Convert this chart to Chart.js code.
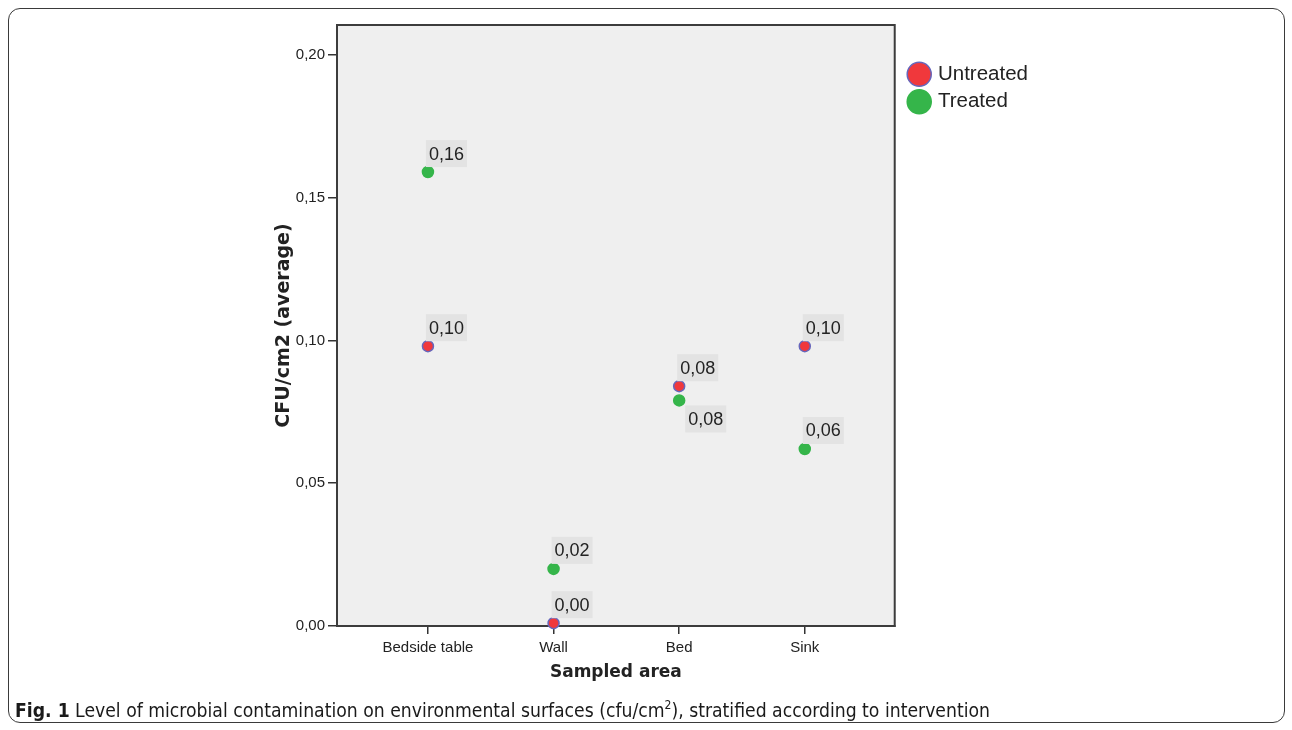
<!DOCTYPE html>
<html><head><meta charset="utf-8">
<script src="https://cdn.jsdelivr.net/npm/chart.js@4.4.1/dist/chart.umd.min.js"></script>
<style>
html,body{margin:0;padding:0;background:#fff;}
#wrap{position:relative;width:1292px;height:730px;overflow:hidden;background:#fff;}
#frame{position:absolute;left:8px;top:8px;width:1277px;height:715px;border:1.5px solid #3a3a3a;border-radius:12px;box-sizing:border-box;}
canvas{position:absolute;left:0;top:0;}
#caption{position:absolute;left:15px;top:699px;font-family:"Liberation Sans Narrow","DejaVu Sans Condensed","Liberation Sans",sans-serif;font-size:20px;color:#1a1a1a;white-space:nowrap;line-height:24px;}
#caption sup{font-size:12px;line-height:0;vertical-align:8px;}
</style></head><body>
<div id="wrap">
<div id="frame"></div>
<canvas id="c" width="1292" height="730"></canvas>
<div id="caption"><b>Fig. 1</b> Level of microbial contamination on environmental surfaces (cfu/cm<sup>2</sup>), stratified according to intervention</div>
</div>
<script>
// ---- data ----
const categories = ['Bedside table', 'Wall', 'Bed', 'Sink'];
const seriesNames = ['Untreated', 'Treated'];
const untreated = [0.098, 0.001, 0.084, 0.098];
const treated = [0.159, 0.020, 0.079, 0.062];
const yTicks = [0, 0.05, 0.10, 0.15, 0.20];
// labels drawn below-right of the point instead of above
const labelsBelow = [{series: 'Treated', category: 'Bed'}];

const fmt = v => Number(v).toFixed(2).replace('.', ',');
const SANS = '"Liberation Sans", Arial, sans-serif';
const BOLD = '"DejaVu Sans", "Liberation Sans", sans-serif';

const plotBox = {
  id: 'plotBox',
  beforeDraw(chart) {
    const {ctx, chartArea: a} = chart;
    ctx.save();
    ctx.fillStyle = '#efefef';
    ctx.fillRect(a.left, a.top, a.right - a.left, a.bottom - a.top);
    ctx.restore();
  },
  beforeDatasetsDraw(chart) {
    const {ctx, chartArea: a} = chart;
    ctx.save();
    ctx.strokeStyle = '#3c3c3c';
    ctx.lineWidth = 2;
    ctx.strokeRect(a.left, a.top, a.right - a.left, a.bottom - a.top);
    ctx.restore();
  },
  afterLayout(chart) {
    const L = chart.legend;
    if (!L) return;
    const w = L.width, h = L.height;
    L.left = chart.chartArea.right + 9;
    L.top = chart.chartArea.top + 32;
    L.right = L.left + w;
    L.bottom = L.top + h;
  }
};

const valueLabels = {
  id: 'valueLabels',
  afterDatasetsDraw(chart) {
    const ctx = chart.ctx;
    ctx.save();
    ctx.font = '18px ' + SANS;
    chart.data.datasets.forEach((ds, di) => {
      const meta = chart.getDatasetMeta(di);
      meta.data.forEach((pt, i) => {
        const txt = fmt(ds.data[i].y);
        const w = ctx.measureText(txt).width + 6;
        const h = 27;
        const below = labelsBelow.some(l => l.series === ds.label && l.category === categories[i]);
        let bx, by;
        if (below) { bx = pt.x + 6; by = pt.y + 5; }
        else { bx = pt.x - 2; by = pt.y - 5 - h; }
        ctx.fillStyle = '#e3e3e3';
        ctx.fillRect(bx, by, w, h);
        ctx.fillStyle = '#222';
        ctx.textAlign = 'center';
        ctx.textBaseline = 'middle';
        ctx.fillText(txt, bx + w / 2, by + h / 2 + 1);
      });
    });
    ctx.restore();
  }
};

new Chart(document.getElementById('c'), {
  type: 'scatter',
  data: {
    datasets: [
      {
        label: seriesNames[0],
        data: categories.map((c, i) => ({x: i, y: untreated[i]})),
        backgroundColor: '#f0383c',
        borderColor: '#6666bb',
        borderWidth: 1.5,
        pointRadius: 5.5,
        pointStyle: 'circle'
      },
      {
        label: seriesNames[1],
        data: categories.map((c, i) => ({x: i, y: treated[i]})),
        backgroundColor: '#35b54a',
        borderColor: '#35b54a',
        borderWidth: 1.5,
        pointRadius: 5.5,
        pointStyle: 'circle'
      }
    ]
  },
  options: {
    responsive: false,
    animation: false,
    events: [],
    clip: false,
    layout: {padding: {left: 269, top: 25, bottom: 43, right: 263}},
    plugins: {
      legend: {
        position: 'right',
        align: 'start',
        labels: {
          usePointStyle: true,
          pointStyle: 'circle',
          boxWidth: 17,
          boxHeight: 17,
          padding: 7,
          color: '#222',
          font: {family: SANS, size: 20.5}
        }
      },
      tooltip: {enabled: false}
    },
    scales: {
      x: {
        type: 'linear',
        min: -0.724,
        max: 3.716,
        afterBuildTicks: s => { s.ticks = categories.map((c, i) => ({value: i})); },
        ticks: {
          callback: v => categories[Math.round(v)],
          color: '#222',
          font: {family: SANS, size: 15},
          padding: 5,
          maxRotation: 0,
          autoSkip: false
        },
        grid: {display: true, drawOnChartArea: false, drawTicks: true, tickLength: 8, color: '#333', lineWidth: 1.5},
        border: {display: true, color: '#3c3c3c', width: 2},
        title: {display: true, text: 'Sampled area', color: '#222',
          font: {family: BOLD, weight: 'bold', size: 17}, padding: {top: 4, bottom: 4}},
        afterFit: s => { s.height = 61; }
      },
      y: {
        min: 0,
        max: 0.2105,
        afterBuildTicks: s => { s.ticks = yTicks.map(v => ({value: v})); },
        ticks: {
          callback: v => fmt(v),
          color: '#222',
          font: {family: SANS, size: 15},
          padding: 3
        },
        grid: {display: true, drawOnChartArea: false, drawTicks: true, tickLength: 9, color: '#333', lineWidth: 1.5},
        border: {display: true, color: '#3c3c3c', width: 2},
        title: {display: true, text: 'CFU/cm2 (average)', color: '#222',
          font: {family: BOLD, weight: 'bold', size: 19}, padding: {top: 4, bottom: 4}},
        afterFit: s => { s.width = 68; }
      }
    }
  },
  plugins: [plotBox, valueLabels]
});

// fit caption width to the reference
(function () {
  const cap = document.getElementById('caption');
  const target = 975;
  const w = cap.getBoundingClientRect().width;
  if (w > 0) {
    const size = 20 * target / w;
    cap.style.fontSize = size.toFixed(2) + 'px';
  }
})();
</script>
</body></html>
